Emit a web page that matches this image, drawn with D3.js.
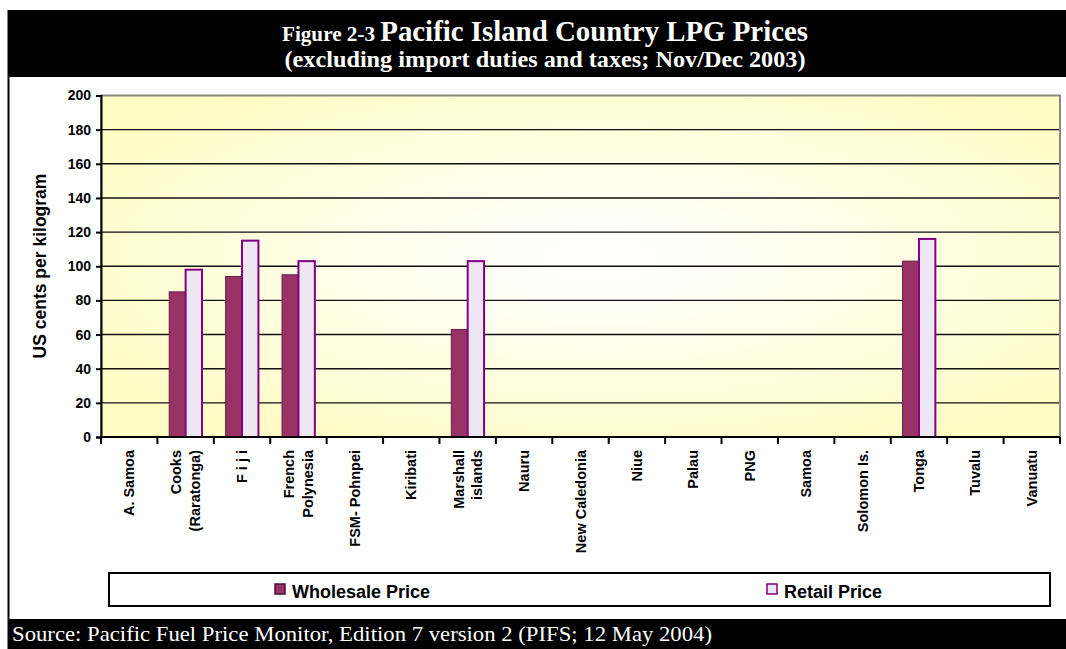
<!DOCTYPE html>
<html>
<head>
<meta charset="utf-8">
<script src="https://cdn.jsdelivr.net/npm/d3@7/dist/d3.min.js"></script>
<style>
  html, body { margin: 0; padding: 0; background: #fff; }
  svg { display: block; }
</style>
</head>
<body>
<svg id="chart" width="1066" height="649"></svg>
<script>
// ---- Data ----
const categories = [
  ["A. Samoa"], ["Cooks", "(Raratonga)"], ["F i j i"], ["French", "Polynesia"],
  ["FSM- Pohnpei"], ["Kiribati"], ["Marshall", "islands"], ["Nauru"],
  ["New Caledonia"], ["Niue"], ["Palau"], ["PNG"], ["Samoa"], ["Solomon Is."],
  ["Tonga"], ["Tuvalu"], ["Vanuatu"]
];
const seriesNames = ["Wholesale Price", "Retail Price"];
const wholesale = [null, 85, 94, 95, null, null, 63, null, null, null, null, null, null, null, 103, null, null];
const retail    = [null, 98, 115, 103, null, null, 103, null, null, null, null, null, null, null, 116, null, null];
const yTicks = [0, 20, 40, 60, 80, 100, 120, 140, 160, 180, 200];
const titleLead = "Figure 2-3 ";
const titleMain = "Pacific Island Country LPG Prices";
const subtitle = "(excluding import duties and taxes; Nov/Dec 2003)";
const yTitle = "US cents per kilogram";
const source = "Source: Pacific Fuel Price Monitor, Edition 7 version 2 (PIFS; 12 May 2004)";

// ---- Layout ----
const svg = d3.select("#chart");
const plot = { left: 101, right: 1060, top: 95.5, bottom: 437 };
const sans = "'Liberation Sans', Arial, Helvetica, sans-serif";
const serif = "'Liberation Serif', 'Times New Roman', Times, serif";
const colW = "#993366", strokeW = "#6a1d49";
const colR = "#EEE6F2", strokeR = "#800080";

const keys = categories.map((c, i) => i);
const x0 = d3.scaleBand().domain(keys).range([plot.left, plot.right]).paddingInner(0).paddingOuter(0);
const x1 = d3.scaleBand().domain(seriesNames).range([0, x0.bandwidth()]).paddingInner(0).paddingOuter(0.72);
const y = d3.scaleLinear().domain([0, 200]).range([plot.bottom, plot.top]);

// frame / header / footer
svg.append("rect").attr("x", 0).attr("y", 0).attr("width", 1066).attr("height", 649).attr("fill", "#fff");
svg.append("line").attr("x1", 8.5).attr("x2", 8.5).attr("y1", 10).attr("y2", 649).attr("stroke", "#000").attr("stroke-width", 2);
svg.append("rect").attr("x", 8).attr("y", 10).attr("width", 1058).attr("height", 67).attr("fill", "#000");
svg.append("rect").attr("x", 8).attr("y", 619).attr("width", 1058).attr("height", 30).attr("fill", "#000");

const t1 = svg.append("text").attr("x", 545).attr("y", 41).attr("text-anchor", "middle")
  .attr("fill", "#fff").attr("font-family", serif).attr("font-weight", "bold")
  .attr("textLength", 526).attr("lengthAdjust", "spacingAndGlyphs");
t1.append("tspan").attr("font-size", 22).text(titleLead);
t1.append("tspan").attr("font-size", 30).text(titleMain);

svg.append("text").attr("x", 545).attr("y", 67).attr("text-anchor", "middle")
  .attr("fill", "#fff").attr("font-family", serif).attr("font-weight", "bold").attr("font-size", 23)
  .attr("textLength", 521).attr("lengthAdjust", "spacingAndGlyphs").text(subtitle);

svg.append("text").attr("x", 12).attr("y", 641).attr("fill", "#fff")
  .attr("font-family", serif).attr("font-size", 22)
  .attr("textLength", 700).attr("lengthAdjust", "spacingAndGlyphs").text(source);

// plot background gradient
const defs = svg.append("defs");
const grad = defs.append("radialGradient").attr("id", "bg").attr("cx", "52%").attr("cy", "48%").attr("r", "62%");
grad.append("stop").attr("offset", "0%").attr("stop-color", "#ffffff");
grad.append("stop").attr("offset", "30%").attr("stop-color", "#fffff2");
grad.append("stop").attr("offset", "100%").attr("stop-color", "#fffcc4");
svg.append("rect").attr("x", plot.left).attr("y", plot.top)
  .attr("width", plot.right - plot.left).attr("height", plot.bottom - plot.top)
  .attr("fill", "url(#bg)");

// gridlines
svg.append("g").selectAll("line").data(yTicks.filter(d => d > 0 && d < 200)).join("line")
  .attr("x1", plot.left).attr("x2", plot.right)
  .attr("y1", d => y(d)).attr("y2", d => y(d))
  .attr("stroke", "#111").attr("stroke-width", 1.4);

// plot border (grey)
svg.append("rect").attr("x", plot.left).attr("y", plot.top)
  .attr("width", plot.right - plot.left).attr("height", plot.bottom - plot.top)
  .attr("fill", "none").attr("stroke", "#8a8a80").attr("stroke-width", 2);

// bars
const gBars = svg.append("g");
keys.forEach(i => {
  const vals = [wholesale[i], retail[i]];
  vals.forEach((v, s) => {
    if (v == null) return;
    gBars.append("rect")
      .attr("x", x0(i) + x1(seriesNames[s]))
      .attr("y", y(v))
      .attr("width", x1.bandwidth())
      .attr("height", y(0) - y(v))
      .attr("fill", s === 0 ? colW : colR)
      .attr("stroke", s === 0 ? strokeW : strokeR)
      .attr("stroke-width", s === 0 ? 1 : 2);
  });
});

// y axis
const yAxis = d3.axisLeft(y).tickValues(yTicks).tickSize(5).tickPadding(5);
const gy = svg.append("g").attr("transform", `translate(${plot.left},0)`).call(yAxis);
gy.select(".domain").attr("stroke", "#000").attr("stroke-width", 2);
gy.selectAll(".tick line").attr("stroke", "#000").attr("stroke-width", 2);
gy.selectAll(".tick text").attr("font-family", sans).attr("font-weight", "bold")
  .attr("font-size", 14).attr("fill", "#000");

// x axis (ticks at band boundaries)
const boundaries = d3.range(categories.length + 1).map(i => plot.left + i * x0.step());
const gx = svg.append("g");
gx.append("line").attr("x1", plot.left).attr("x2", plot.right)
  .attr("y1", plot.bottom).attr("y2", plot.bottom).attr("stroke", "#000").attr("stroke-width", 2);
gx.selectAll("line.tk").data(boundaries).join("line").attr("class", "tk")
  .attr("x1", d => d).attr("x2", d => d)
  .attr("y1", plot.bottom).attr("y2", plot.bottom + 7)
  .attr("stroke", "#000").attr("stroke-width", 2);

// x labels (rotated)
keys.forEach(i => {
  const lines = categories[i];
  const cx = x0(i) + x0.bandwidth() / 2;
  const n = lines.length;
  lines.forEach((ln, k) => {
    const off = (k - (n - 1) / 2) * 18.5;
    svg.append("text")
      .attr("transform", `translate(${cx + off},450) rotate(-90)`)
      .attr("text-anchor", "end").attr("dy", "0.35em")
      .attr("font-family", sans).attr("font-weight", "bold").attr("font-size", 14.5)
      .attr("fill", "#000").text(ln);
  });
});

// y title
svg.append("text").attr("transform", "translate(40,266) rotate(-90)")
  .attr("text-anchor", "middle").attr("dy", "0.35em")
  .attr("font-family", sans).attr("font-weight", "bold").attr("font-size", 17.5)
  .attr("fill", "#000").text(yTitle);

// legend
svg.append("rect").attr("x", 109).attr("y", 573).attr("width", 941).attr("height", 33)
  .attr("fill", "#fff").attr("stroke", "#000").attr("stroke-width", 2);
const legendPos = [275, 767];
seriesNames.forEach((name, s) => {
  svg.append("rect").attr("x", legendPos[s]).attr("y", 584).attr("width", 10).attr("height", 10)
    .attr("fill", s === 0 ? colW : colR).attr("stroke", s === 0 ? "#4a0f33" : strokeR).attr("stroke-width", 1.5);
  svg.append("text").attr("x", legendPos[s] + 17).attr("y", 598)
    .attr("font-family", sans).attr("font-weight", "bold").attr("font-size", 18)
    .attr("fill", "#000").text(name);
});
</script>
</body>
</html>
